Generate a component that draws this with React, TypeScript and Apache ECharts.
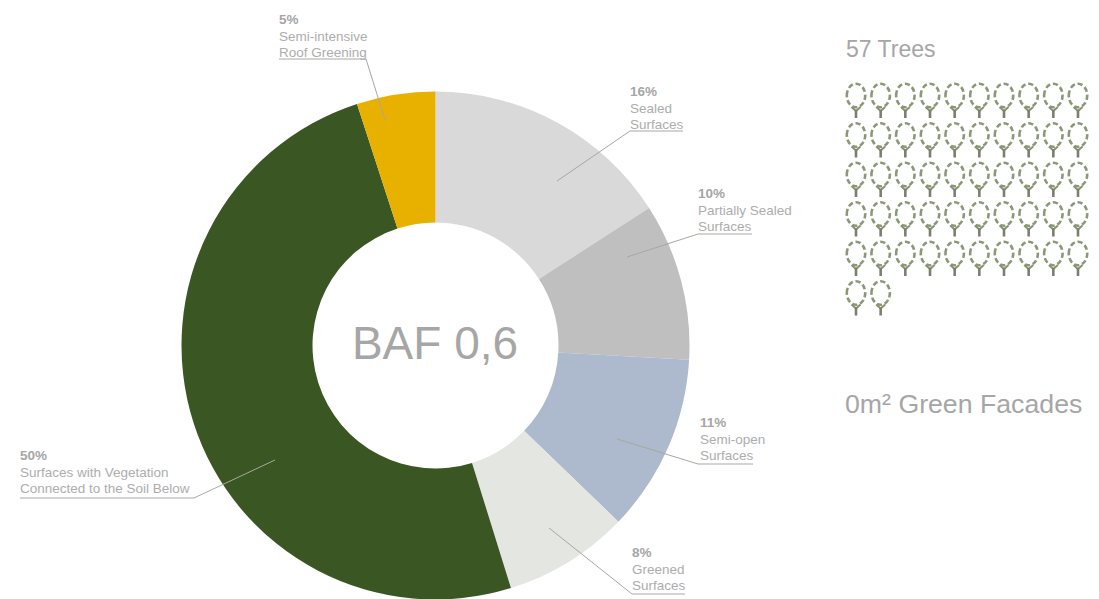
import React, { useEffect, useRef } from "react";
import * as echarts from "echarts";

const categories = [
  "Sealed\nSurfaces",
  "Partially Sealed\nSurfaces",
  "Semi-open\nSurfaces",
  "Greened\nSurfaces",
  "Surfaces with Vegetation\nConnected to the Soil Below",
  "Semi-intensive\nRoof Greening",
];
const shares = [15.9, 10, 11.3, 8, 49.8, 5];
const sliceColors = ["#d9d9d9", "#bfbfbf", "#adb9cc", "#e4e6e1", "#3a5622", "#e8b100"];
const baf = "BAF 0,6";
const treesTitle = "57 Trees";
const facadesTitle = "0m² Green Facades";
const drawnTrees = 52;
const treesPerRow = 10;

const GREY = "#a6a6a6";
const TEXT_GREY = "#adadad";
const labelLeft = [630, 698, 700, 632, 20, 279];
const labelTop = [83, 185, 414, 544, 447, 11];
const leaderPoints = [
  [[557, 181], [630, 131], [683, 131]],
  [[627, 257], [698, 234], [752, 234]],
  [[617, 439], [698, 464], [753, 464]],
  [[549, 528], [632, 594], [685, 594]],
  [[275, 460], [194, 498], [20, 498]],
  [[385, 120], [366, 59], [279, 59]],
];

const treeCells: number[][] = [];
for (let i = 0; i < drawnTrees; i++) {
  treeCells.push([i % treesPerRow, Math.floor(i / treesPerRow)]);
}

function renderTree(_: any, api: any) {
  const [cx, cy] = api.coord([api.value(0), api.value(1)]);
  const green = { stroke: "#85936f", lineWidth: 2, fill: "none" };
  return {
    type: "group",
    children: [
      {
        type: "ellipse",
        shape: { cx, cy, rx: 9.2, ry: 11.8 },
        style: { fill: "none", stroke: "#8b9878", lineWidth: 2.6, lineDash: [5.2, 2.8] },
      },
      { type: "line", shape: { x1: cx, y1: cy + 15.5, x2: cx - 4.5, y2: cy + 11.5 }, style: green },
      { type: "line", shape: { x1: cx, y1: cy + 15.5, x2: cx + 4.5, y2: cy + 11.5 }, style: green },
      {
        type: "line",
        shape: { x1: cx, y1: cy + 14.5, x2: cx, y2: cy + 22.5 },
        style: { stroke: "#7d7d70", lineWidth: 2.6, fill: "none" },
      },
    ],
  };
}

export default function App() {
  const ref = useRef<HTMLDivElement>(null);
  useEffect(() => {
    document.body.style.margin = "0";
    const chart = echarts.init(ref.current!, null, { renderer: "svg" });
    const pieBase = {
      type: "pie",
      silent: true,
      center: [435.5, 345.5],
      radius: [123, 254],
      startAngle: 90,
      clockwise: true,
    };
    chart.setOption({
      animation: false,
      textStyle: { fontFamily: "Liberation Sans" },
      grid: { left: 856, top: 95.5, width: 222, height: 197.5 },
      xAxis: { type: "value", min: 0, max: 9, show: false },
      yAxis: { type: "value", min: 0, max: 5, inverse: true, show: false },
      graphic: [
        {
          type: "text",
          x: 846,
          y: 37,
          style: { text: treesTitle, fill: GREY, fontSize: 23, fontFamily: "Liberation Sans" },
        },
        {
          type: "text",
          x: 845,
          y: 390,
          style: { text: facadesTitle, fill: GREY, fontSize: 26.7, fontFamily: "Liberation Sans" },
        },
        {
          type: "text",
          x: 435,
          y: 343,
          style: {
            text: baf,
            fill: GREY,
            fontSize: 46,
            fontFamily: "Liberation Sans",
            align: "center",
            verticalAlign: "middle",
          },
        },
      ],
      series: [
        {
          ...pieBase,
          z: 2,
          data: categories.map((name, i) => ({
            name,
            value: shares[i],
            itemStyle: { color: sliceColors[i] },
          })),
          label: { show: false },
          labelLine: { show: false },
        },
        {
          ...pieBase,
          z: 6,
          data: categories.map((name, i) => ({
            name,
            value: shares[i],
            itemStyle: { color: "transparent" },
          })),
          label: {
            show: true,
            position: "outside",
            align: "left",
            overflow: "none",
            formatter: (p: any) =>
              `{p|${Math.round(p.value)}%}\n{t|${p.name.split("\n").join("}\n{t|")}}`,
            rich: {
              p: { fontSize: 13.5, fontWeight: "bold", color: GREY, lineHeight: 16.7, fontFamily: "Liberation Sans" },
              t: { fontSize: 13.5, color: TEXT_GREY, lineHeight: 16.7, fontFamily: "Liberation Sans" },
            },
          },
          labelLine: { show: true, showAbove: true, lineStyle: { color: "#a8a8a0", width: 1 } },
          labelLayout: (p: any) => ({
            x: labelLeft[p.dataIndex],
            y: labelTop[p.dataIndex],
            align: "left",
            verticalAlign: "top",
            labelLinePoints: leaderPoints[p.dataIndex],
          }),
        },
        {
          type: "custom",
          coordinateSystem: "cartesian2d",
          silent: true,
          renderItem: renderTree,
          data: treeCells,
        },
      ],
    });
    return () => chart.dispose();
  }, []);
  return <div ref={ref} style={{ width: 1099, height: 599 }} />;
}
